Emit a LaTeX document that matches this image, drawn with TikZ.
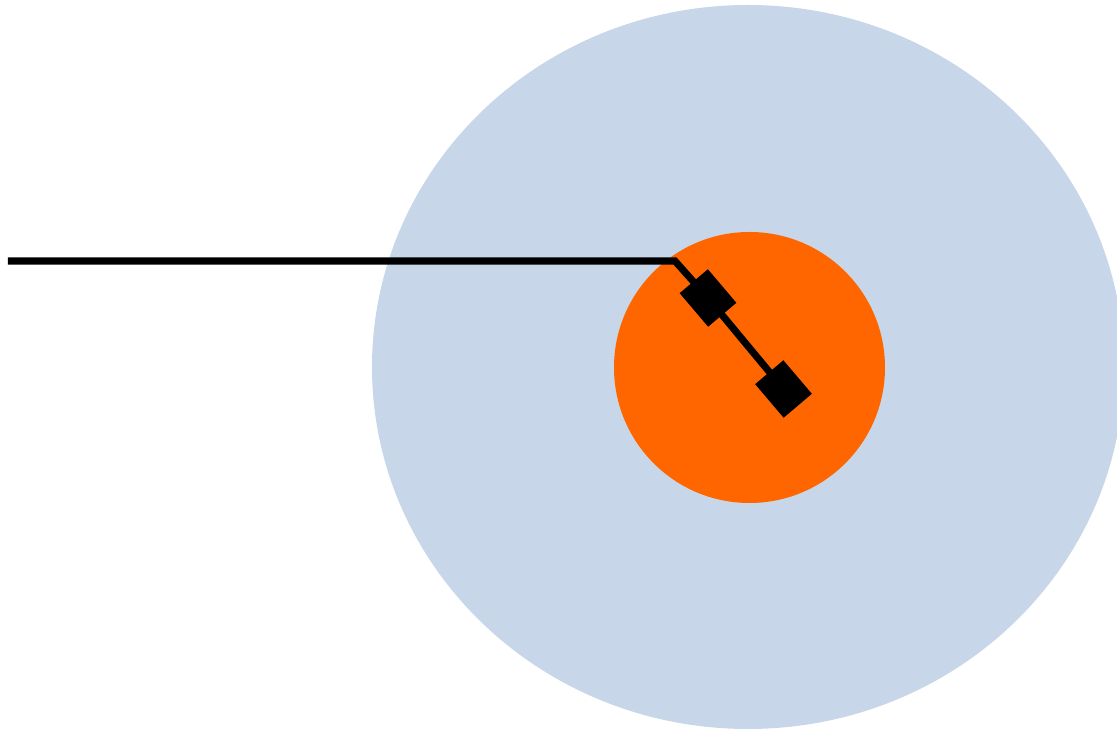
\documentclass[tikz,border=0pt]{standalone}
\usepackage{tikz}
\usetikzlibrary{positioning}

\definecolor{zoneblue}{RGB}{199,214,232}
\definecolor{coreorange}{RGB}{255,102,0}

\tikzset{
  probe/.style={line width=2pt, line join=miter},
  pad/.style={draw=none, fill=black, rectangle, inner sep=0pt,
    minimum width=0.44cm, minimum height=0.37cm, rotate=-49.7}
}

\begin{document}
\begin{tikzpicture}[x=0.01cm, y=-0.01cm]

% Frame
\useasboundingbox (0,0) rectangle (1117,731);
\clip (0,0) rectangle (1117,731);

% Outer zone
\fill[zoneblue] (748,367) ellipse [x radius=376, y radius=362];

% Core
\fill[coreorange] (749.5,367.5) circle [radius=135.5];

% Probe
\coordinate (lead) at (8,261);
\coordinate (bend) at (675,261);
\node[pad] (padA) at (708,298) {};
\node[pad] (padB) at (783.5,389) {};
\draw[probe] (lead) -- (bend) -- (padA.center) -- (padB.center);

\end{tikzpicture}
\end{document}
